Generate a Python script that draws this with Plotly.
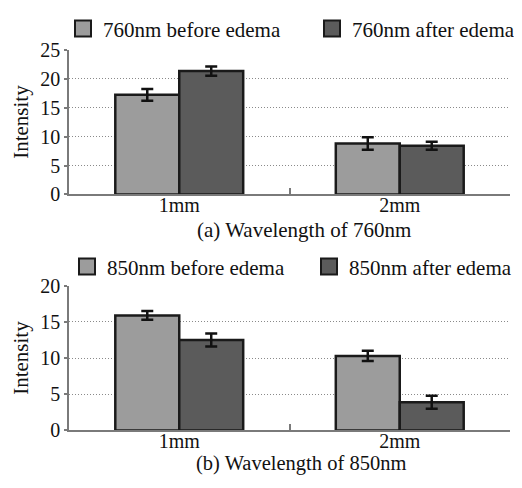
import plotly.graph_objects as go

categories = ["1mm", "2mm"]

before_760 = [17.2, 8.8]
before_760_err = [1.0, 1.1]
after_760 = [21.3, 8.4]
after_760_err = [0.8, 0.7]

before_850 = [15.9, 10.3]
before_850_err = [0.6, 0.7]
after_850 = [12.5, 3.9]
after_850_err = [0.9, 0.9]

names_760 = ["760nm before edema", "760nm after edema"]
names_850 = ["850nm before edema", "850nm after edema"]
captions = ["(a) Wavelength of 760nm", "(b) Wavelength of 850nm"]

LIGHT = "#9c9c9c"
DARK = "#5b5b5b"
EDGE = "#1a1a1a"
TXT = "#111111"
AX = "#7a7a7a"
FONT = "Liberation Serif"

# page has an 8px body margin; figure sized to fill the 522x488 window
OFF = 8
W, H = 522 - OFF, 488 - OFF

def px(x):
    return (x - OFF) / W

def py(y):
    return 1 - (y - OFF) / H

fig = go.Figure()

def add_bars(vals, errs, color, xa, ya):
    fig.add_trace(go.Bar(
        x=categories, y=vals, xaxis=xa, yaxis=ya, showlegend=False,
        marker=dict(color=color, line=dict(color=EDGE, width=2.5)),
        error_y=dict(type="data", array=errs, color=TXT, thickness=2.5, width=6),
    ))

def add_legend(name, color, legend):
    fig.add_trace(go.Scatter(
        x=[None], y=[None], mode="markers", name=name, legend=legend,
        marker=dict(symbol="square", size=17, color=color, line=dict(color=EDGE, width=2)),
    ))

add_bars(before_760, before_760_err, LIGHT, "x", "y")
add_bars(after_760, after_760_err, DARK, "x", "y")
add_bars(before_850, before_850_err, LIGHT, "x2", "y2")
add_bars(after_850, after_850_err, DARK, "x2", "y2")

add_legend(names_760[0], LIGHT, "legend")
add_legend(names_760[1], DARK, "legend2")
add_legend(names_850[0], LIGHT, "legend3")
add_legend(names_850[1], DARK, "legend4")

xd = [px(69), px(510)]
top_dom = [py(192), py(46)]
bot_dom = [py(430), py(284)]

xax = dict(
    domain=xd, type="category", showline=True, linecolor=AX, linewidth=1.5,
    tickson="boundaries", ticks="inside", ticklen=7, tickcolor=AX, tickwidth=1.5,
    showgrid=False, automargin=False, ticklabelstandoff=-8,
    tickfont=dict(family=FONT, size=20, color=TXT),
)
yax = dict(
    showline=True, linecolor=AX, linewidth=1.5, ticks="outside", ticklen=3,
    tickcolor=AX, tickwidth=1.5, showgrid=True, automargin=False,
    gridcolor="#8a8a8a", griddash="1px,2px", gridwidth=1, zeroline=False,
    tickfont=dict(family=FONT, size=20, color=TXT), dtick=5,
    title=dict(text="Intensity", font=dict(family=FONT, size=21, color=TXT), standoff=6),
)

leg = dict(
    orientation="h", xanchor="left", yanchor="middle",
    font=dict(family=FONT, size=21, color=TXT), bgcolor="rgba(0,0,0,0)",
    itemsizing="trace",
)

fig.update_layout(
    width=W, height=H, margin=dict(l=0, r=0, t=0, b=0),
    paper_bgcolor="white", plot_bgcolor="white",
    barmode="group", bargap=0.42, bargroupgap=0,
    xaxis=dict(xax, anchor="y"),
    yaxis=dict(yax, domain=top_dom, range=[0, 25], anchor="x"),
    xaxis2=dict(xax, anchor="y2"),
    yaxis2=dict(yax, domain=bot_dom, range=[0, 20], anchor="x2"),
    legend=dict(leg, x=px(63), y=py(25)),
    legend2=dict(leg, x=px(312), y=py(25)),
    legend3=dict(leg, x=px(67), y=py(265)),
    legend4=dict(leg, x=px(309), y=py(265)),
    annotations=[
        dict(text=captions[0], x=px(304), y=py(228), xref="paper", yref="paper",
             showarrow=False, font=dict(family=FONT, size=21, color=TXT)),
        dict(text=captions[1], x=px(301), y=py(477), xref="paper", yref="paper",
             showarrow=False, font=dict(family=FONT, size=20.5, color=TXT)),
    ],
)

fig.write_html("out.html")
